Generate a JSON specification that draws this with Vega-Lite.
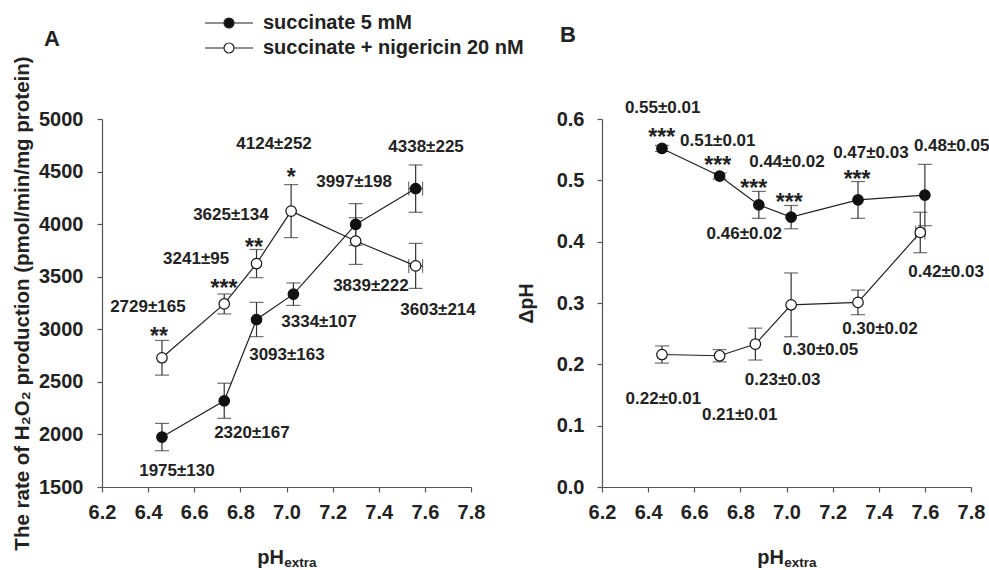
{
  "$schema": "https://vega.github.io/schema/vega-lite/v6.json",
  "background": "white",
  "padding": {"left": 11, "top": 13, "right": 5, "bottom": 0},
  "bounds": "flush",
  "spacing": 131,
  "config": {
    "font": "Liberation Sans",
    "view": {"stroke": null},
    "axis": {"grid": false, "labelFlush": false, "domainColor": "#555", "tickColor": "#555", "tickSize": 5, "domainWidth": 1.2, "tickWidth": 1.2, "labelFontSize": 20, "labelFontWeight": "bold", "labelColor": "#222", "titleFontSize": 19.5, "titleFontWeight": "bold", "titleColor": "#222"},
    "title": {"fontSize": 22, "fontWeight": "bold", "color": "#222"}
  },
  "resolve": {"scale": {"fill": "independent"}, "legend": {"fill": "independent"}},
  "datasets": {
    "a_sub": [{"t": "extra", "x": 7.06, "y": 1500}],
    "b_sub": [{"t": "extra", "x": 7.06, "y": 0}],
    "a_pts": [
      {"series": "succinate 5 mM", "x": 6.46, "y": 1975, "err": 130, "xerr": 0},
      {"series": "succinate 5 mM", "x": 6.73, "y": 2320, "err": 167, "xerr": 0},
      {"series": "succinate 5 mM", "x": 6.87, "y": 3093, "err": 163, "xerr": 0},
      {"series": "succinate 5 mM", "x": 7.03, "y": 3334, "err": 107, "xerr": 0},
      {"series": "succinate 5 mM", "x": 7.30, "y": 3997, "err": 198, "xerr": 0},
      {"series": "succinate 5 mM", "x": 7.56, "y": 4338, "err": 225, "xerr": 0.03},
      {"series": "succinate + nigericin 20 nM", "x": 6.46, "y": 2729, "err": 165, "xerr": 0},
      {"series": "succinate + nigericin 20 nM", "x": 6.73, "y": 3241, "err": 95, "xerr": 0},
      {"series": "succinate + nigericin 20 nM", "x": 6.87, "y": 3625, "err": 134, "xerr": 0},
      {"series": "succinate + nigericin 20 nM", "x": 7.02, "y": 4124, "err": 252, "xerr": 0},
      {"series": "succinate + nigericin 20 nM", "x": 7.30, "y": 3839, "err": 222, "xerr": 0},
      {"series": "succinate + nigericin 20 nM", "x": 7.56, "y": 3603, "err": 214, "xerr": 0.03}
    ],
    "a_labels": [
      {"x": 6.946, "y": 4762, "label": "4124±252"},
      {"x": 7.605, "y": 4734, "label": "4338±225"},
      {"x": 7.293, "y": 4401, "label": "3997±198"},
      {"x": 6.759, "y": 4087, "label": "3625±134"},
      {"x": 6.608, "y": 3668, "label": "3241±95"},
      {"x": 7.366, "y": 3412, "label": "3839±222"},
      {"x": 6.399, "y": 3212, "label": "2729±165"},
      {"x": 7.657, "y": 3183, "label": "3603±214"},
      {"x": 7.141, "y": 3069, "label": "3334±107"},
      {"x": 7.002, "y": 2755, "label": "3093±163"},
      {"x": 6.850, "y": 2014, "label": "2320±167"},
      {"x": 6.525, "y": 1652, "label": "1975±130"}
    ],
    "a_stars": [
      {"x": 7.020, "y": 4374, "label": "*"},
      {"x": 6.859, "y": 3708, "label": "**"},
      {"x": 6.729, "y": 3318, "label": "***"},
      {"x": 6.447, "y": 2862, "label": "**"}
    ],
    "b_pts": [
      {"series": "succinate 5 mM", "x": 6.46, "y": 0.552, "err": 0.005, "xerr": 0},
      {"series": "succinate 5 mM", "x": 6.71, "y": 0.507, "err": 0.005, "xerr": 0},
      {"series": "succinate 5 mM", "x": 6.88, "y": 0.46, "err": 0.022, "xerr": 0},
      {"series": "succinate 5 mM", "x": 7.02, "y": 0.44, "err": 0.019, "xerr": 0},
      {"series": "succinate 5 mM", "x": 7.31, "y": 0.468, "err": 0.03, "xerr": 0},
      {"series": "succinate 5 mM", "x": 7.60, "y": 0.476, "err": 0.05, "xerr": 0},
      {"series": "succinate + nigericin 20 nM", "x": 6.46, "y": 0.216, "err": 0.014, "xerr": 0},
      {"series": "succinate + nigericin 20 nM", "x": 6.71, "y": 0.214, "err": 0.01, "xerr": 0},
      {"series": "succinate + nigericin 20 nM", "x": 6.865, "y": 0.233, "err": 0.026, "xerr": 0},
      {"series": "succinate + nigericin 20 nM", "x": 7.02, "y": 0.297, "err": 0.052, "xerr": 0},
      {"series": "succinate + nigericin 20 nM", "x": 7.31, "y": 0.301, "err": 0.02, "xerr": 0},
      {"series": "succinate + nigericin 20 nM", "x": 7.58, "y": 0.415, "err": 0.033, "xerr": 0.02}
    ],
    "b_labels": [
      {"x": 6.463, "y": 0.6174, "label": "0.55±0.01"},
      {"x": 6.702, "y": 0.5642, "label": "0.51±0.01"},
      {"x": 7.002, "y": 0.530, "label": "0.44±0.02"},
      {"x": 6.817, "y": 0.4125, "label": "0.46±0.02"},
      {"x": 7.366, "y": 0.5452, "label": "0.47±0.03"},
      {"x": 7.716, "y": 0.5561, "label": "0.48±0.05"},
      {"x": 7.692, "y": 0.350, "label": "0.42±0.03"},
      {"x": 7.405, "y": 0.258, "label": "0.30±0.02"},
      {"x": 7.147, "y": 0.2228, "label": "0.30±0.05"},
      {"x": 6.983, "y": 0.174, "label": "0.23±0.03"},
      {"x": 6.466, "y": 0.1442, "label": "0.22±0.01"},
      {"x": 6.797, "y": 0.117, "label": "0.21±0.01"}
    ],
    "b_stars": [
      {"x": 6.459, "y": 0.5569, "label": "***"},
      {"x": 6.702, "y": 0.5120, "label": "***"},
      {"x": 6.858, "y": 0.4746, "label": "***"},
      {"x": 7.012, "y": 0.4524, "label": "***"},
      {"x": 7.306, "y": 0.4893, "label": "***"}
    ]
  },
  "hconcat": [
    {
      "width": 369,
      "height": 368,
      "title": {"text": "A", "anchor": "start", "frame": "group", "dx": -58, "offset": -54.7, "baseline": "alphabetic"},
      "encoding": {
        "x": {"field": "x", "type": "quantitative", "scale": {"domain": [6.2, 7.8], "nice": false, "zero": false},
              "axis": {"values": [6.2, 6.4, 6.6, 6.8, 7.0, 7.2, 7.4, 7.6, 7.8], "format": ".1f", "title": "pH", "labelPadding": 10, "titleX": 168, "titleY": 76, "titleBaseline": "alphabetic", "titleFontSize": 20}},
        "y": {"field": "y", "type": "quantitative", "scale": {"domain": [1500, 5000], "nice": false, "zero": false},
              "axis": {"values": [1500, 2000, 2500, 3000, 3500, 4000, 4500, 5000], "format": "d", "title": "The rate of H₂O₂ production (pmol/min/mg protein)", "labelPadding": 14, "titleX": -74, "titleBaseline": "alphabetic", "titleFontSize": 20.5}}
      },
      "layer": [
        {"data": {"name": "a_pts"}, "mark": {"type": "errorbar", "color": "#333", "thickness": 1.2, "ticks": {"size": 14, "thickness": 1.2, "color": "#333"}}, "encoding": {"yError": {"field": "err"}}},
        {"data": {"name": "a_pts"}, "transform": [{"filter": "datum.xerr > 0"}], "mark": {"type": "errorbar", "color": "#333", "thickness": 1.2, "ticks": {"size": 14, "thickness": 1.2, "color": "#333"}}, "encoding": {"xError": {"field": "xerr"}}},
        {"data": {"name": "a_pts"}, "mark": {"type": "line", "color": "#222", "strokeWidth": 1.2}, "encoding": {"detail": {"field": "series"}}},
        {"data": {"name": "a_pts"}, "mark": {"type": "point", "filled": true, "size": 110, "stroke": "#111", "strokeWidth": 1.2, "opacity": 1},
         "encoding": {"fill": {"field": "series", "type": "nominal", "scale": {"domain": ["succinate 5 mM", "succinate + nigericin 20 nM"], "range": ["#111111", "#ffffff"]},
           "legend": {"title": null, "orient": "none", "legendX": 117, "legendY": -106, "symbolType": "M-4.8,0H-1M1,0H4.8M1,0A1,1,0,1,1,-1,0A1,1,0,1,1,1,0Z", "symbolSize": 100, "symbolStrokeColor": "#222", "symbolStrokeWidth": 1.2, "labelFontSize": 20, "labelFontWeight": "bold", "labelColor": "#222", "labelOffset": 24, "rowPadding": 5, "padding": 0, "labelLimit": 400}}}},
        {"data": {"name": "a_labels"}, "mark": {"type": "text", "fontSize": 17, "fontWeight": "bold", "color": "#222", "baseline": "middle"}, "encoding": {"text": {"field": "label"}}},
        {"data": {"name": "a_stars"}, "mark": {"type": "text", "fontSize": 23, "fontWeight": "bold", "color": "#222", "baseline": "alphabetic"}, "encoding": {"text": {"field": "label"}}},
        {"data": {"name": "a_sub"}, "mark": {"type": "text", "fontSize": 13.5, "fontWeight": "bold", "color": "#222", "baseline": "alphabetic", "dy": 80}, "encoding": {"text": {"field": "t"}}}
      ]
    },
    {
      "width": 369,
      "height": 368,
      "title": {"text": "B", "anchor": "start", "frame": "group", "dx": -42, "offset": 35.3, "baseline": "alphabetic"},
      "encoding": {
        "x": {"field": "x", "type": "quantitative", "scale": {"domain": [6.2, 7.8], "nice": false, "zero": false},
              "axis": {"values": [6.2, 6.4, 6.6, 6.8, 7.0, 7.2, 7.4, 7.6, 7.8], "format": ".1f", "title": "pH", "labelPadding": 10, "titleX": 168, "titleY": 76, "titleBaseline": "alphabetic", "titleFontSize": 20}},
        "y": {"field": "y", "type": "quantitative", "scale": {"domain": [0, 0.6], "nice": false, "zero": false},
              "axis": {"values": [0, 0.1, 0.2, 0.3, 0.4, 0.5, 0.6], "format": ".1f", "title": "ΔpH", "labelPadding": 13, "titleX": -70, "titleBaseline": "alphabetic"}}
      },
      "layer": [
        {"data": {"name": "b_pts"}, "mark": {"type": "errorbar", "color": "#333", "thickness": 1.2, "ticks": {"size": 14, "thickness": 1.2, "color": "#333"}}, "encoding": {"yError": {"field": "err"}}},
        {"data": {"name": "b_pts"}, "transform": [{"filter": "datum.xerr > 0"}], "mark": {"type": "errorbar", "color": "#333", "thickness": 1.2, "ticks": {"size": 14, "thickness": 1.2, "color": "#333"}}, "encoding": {"xError": {"field": "xerr"}}},
        {"data": {"name": "b_pts"}, "mark": {"type": "line", "color": "#222", "strokeWidth": 1.2}, "encoding": {"detail": {"field": "series"}}},
        {"data": {"name": "b_pts"}, "mark": {"type": "point", "filled": true, "size": 110, "stroke": "#111", "strokeWidth": 1.2, "opacity": 1},
         "encoding": {"fill": {"field": "series", "type": "nominal", "scale": {"domain": ["succinate 5 mM", "succinate + nigericin 20 nM"], "range": ["#111111", "#ffffff"]}, "legend": null}}},
        {"data": {"name": "b_labels"}, "mark": {"type": "text", "fontSize": 17, "fontWeight": "bold", "color": "#222", "baseline": "middle"}, "encoding": {"text": {"field": "label"}}},
        {"data": {"name": "b_stars"}, "mark": {"type": "text", "fontSize": 23, "fontWeight": "bold", "color": "#222", "baseline": "alphabetic"}, "encoding": {"text": {"field": "label"}}},
        {"data": {"name": "b_sub"}, "mark": {"type": "text", "fontSize": 13.5, "fontWeight": "bold", "color": "#222", "baseline": "alphabetic", "dy": 80}, "encoding": {"text": {"field": "t"}}}
      ]
    }
  ]
}
